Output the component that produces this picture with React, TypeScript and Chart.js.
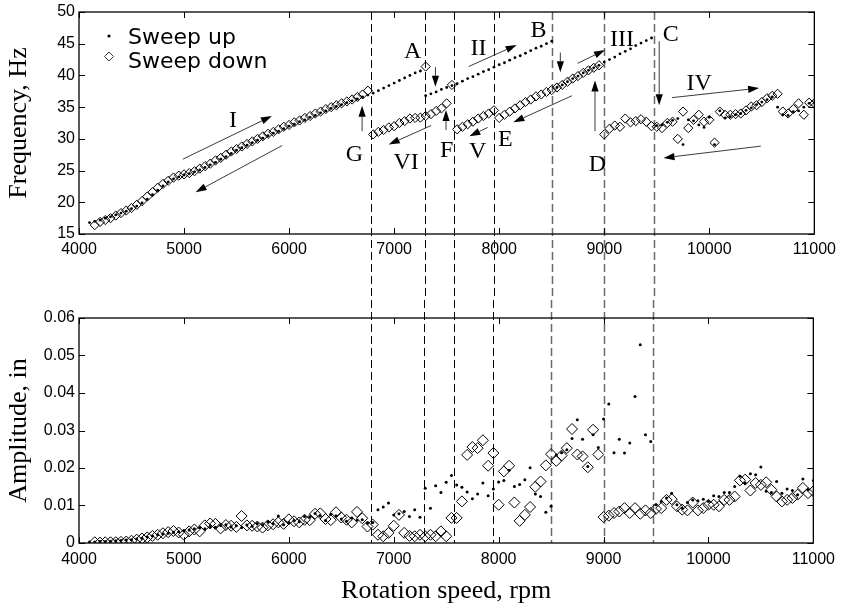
import React, { useEffect, useRef } from 'react';
import { Chart, registerables } from 'chart.js';

Chart.register(...registerables);

// ---------- data ----------
const rpmGrid = [
  4100, 4150, 4200, 4250, 4300, 4350, 4400, 4450, 4500, 4550,
  4600, 4650, 4700, 4750, 4800, 4850, 4900, 4950, 5000, 5050,
  5100, 5150, 5200, 5250, 5300, 5350, 5400, 5450, 5500, 5550,
  5600, 5650, 5700, 5750, 5800, 5850, 5900, 5950, 6000, 6050,
  6100, 6150, 6200, 6250, 6300, 6350, 6400, 6450, 6500, 6550,
  6600, 6650, 6700, 6750, 6800, 6850, 6900, 6950, 7000, 7050,
  7100, 7150, 7200, 7250, 7300, 7350, 7400, 7450, 7500, 7550,
  7600, 7650, 7700, 7750, 7800, 7850, 7900, 7950, 8000, 8050,
  8100, 8150, 8200, 8250, 8300, 8350, 8400, 8450, 8500, 8550,
  8600, 8650, 8700, 8750, 8800, 8850, 8900, 8950, 9000, 9050,
  9100, 9150, 9200, 9250, 9300, 9350, 9400, 9450, 9500, 9550,
  9600, 9650, 9700, 9750, 9800, 9850, 9900, 9950, 10000, 10050,
  10100, 10150, 10200, 10250, 10300, 10350, 10400, 10450, 10500, 10550,
  10600, 10650, 10700, 10750, 10800, 10850, 10900, 10950, 11000,
];
// sweep down starts one step later (4150)
const rpmDown = rpmGrid.slice(1);

const sweepUpFreq = [
  16.8, 17.0, 17.2, 17.5, 17.7, 18.0, 18.3, 18.6, 19.0, 19.4,
  19.9, 20.5, 21.2, 21.9, 22.6, 23.2, 23.7, 24.0, 24.3, 24.5,
  24.8, 25.1, 25.5, 25.9, 26.3, 26.8, 27.2, 27.7, 28.2, 28.6,
  29.0, 29.4, 29.8, 30.1, 30.5, 30.9, 31.2, 31.6, 32.0, 32.3,
  32.7, 33.0, 33.4, 33.7, 34.1, 34.4, 34.8, 35.1, 35.4, 35.7,
  36.0, 36.3, 36.6, 36.9, 37.2, 37.6, 38.0, 38.4, 38.8, 39.2,
  39.6, 40.0, 40.4, 40.7, 36.8, 37.1, 37.4, 37.8, 38.1, 38.4,
  38.7, 39.1, 39.5, 39.8, 40.2, 40.6, 40.9, 41.3, 41.7, 42.0,
  42.4, 42.8, 43.1, 43.5, 43.9, 44.3, 44.6, 45.0, 45.4, 38.1,
  38.5, 39.0, 39.5, 39.9, 40.4, 40.8, 41.2, 41.6, 42.1, 42.5,
  42.9, 43.4, 43.8, 44.2, 44.7, 45.1, 45.5, 45.9, 32.1, 32.2,
  32.6, 32.9, 33.2, 29.1, 33.0, 32.85, 32.2, 31.8, 33.4, 29.1,
  34.4, 33.3, 33.5, 33.8, 34.0, 34.5, 34.9, 35.4, 35.8, 36.2,
  36.6, 35.0, 33.8, 33.7, 34.3, 34.4, 35.0, 35.6, 35.7,
];

const sweepDownFreq = [
  16.4, 16.9, 17.2, 17.5, 17.9, 18.3, 18.7, 19.1, 19.6, 20.2,
  20.9, 21.6, 22.3, 22.9, 23.4, 23.9, 24.2, 24.4, 24.6, 24.9,
  25.3, 25.7, 26.1, 26.6, 27.0, 27.5, 28.0, 28.4, 28.8, 29.2,
  29.6, 30.0, 30.4, 30.8, 31.1, 31.5, 31.9, 32.2, 32.6, 32.9,
  33.3, 33.6, 34.0, 34.3, 34.7, 35.0, 35.3, 35.6, 35.9, 36.2,
  36.6, 37.0, 37.6, 30.7, 31.1, 31.4, 31.8, 32.0, 32.5, 32.8,
  33.2, 33.3, 33.35, 33.6, 33.9, 34.4, 34.8, 35.6, 38.5, 31.5,
  31.9, 32.3, 32.7, 33.2, 33.6, 34.0, 34.5, 33.3, 33.8, 34.3,
  34.8, 35.3, 35.8, 36.2, 36.7, 37.0, 37.4, 37.7, 38.1, 38.5,
  39.0, 39.5, 39.9, 40.4, 40.8, 41.2, 41.6, 30.7, 31.6, 32.1,
  31.9, 33.2, 32.6, 32.8, 33.1, 32.7, 32.0, 31.9, 31.7, 32.5,
  32.7, 30.0, 34.3, 31.7, 33.0, 33.8, 32.7, 33.0, 29.4, 34.3,
  33.8, 33.8, 33.9, 34.0, 34.5, 35.1, 35.3, 35.8, 36.4, 36.8,
  37.1, 34.3, 34.0, 34.7, 35.6, 33.8, 35.7, 35.6,
];
// extra sweep-down point at A
const sweepDownExtraRpm = [7300];
const sweepDownExtraFreq = [41.4];

const sweepUpAmp = [
  0.0003, 0.0003, 0.0004, 0.0004, 0.0005, 0.0006, 0.0007, 0.0008, 0.0009, 0.0011,
  0.0013, 0.0016, 0.0019, 0.0022, 0.0024, 0.0026, 0.0029, 0.003, 0.0033, 0.0035,
  0.0038, 0.0041, 0.0038, 0.0044, 0.0042, 0.0047, 0.0049, 0.0043, 0.0046, 0.0041,
  0.0048, 0.0045, 0.0052, 0.0049, 0.0056, 0.0052, 0.0072, 0.0049, 0.0055, 0.006,
  0.0057, 0.0071, 0.0069, 0.0079, 0.0073, 0.006, 0.0077, 0.0073, 0.0064, 0.0058,
  0.0067, 0.0061, 0.0062, 0.0053, 0.0055, 0.0089, 0.0096, 0.0107, 0.0075, 0.0078,
  0.0084, 0.0071, 0.0089, 0.0069, 0.0146, 0.0093, 0.0153, 0.0135, 0.0162, 0.018,
  0.0155, 0.0149, 0.0136, 0.0118, 0.0131, 0.016, 0.0126, 0.0144, 0.0163, 0.0167,
  0.0194, 0.0151, 0.0156, 0.0169, 0.0201, 0.0131, 0.0124, 0.0082, 0.0098, 0.0235,
  0.0241, 0.0249, 0.0279, 0.0329, 0.0277, 0.0204, 0.0289, 0.0255, 0.0331, 0.0371,
  0.0241, 0.0277, 0.024, 0.0267, 0.0391, 0.0529, 0.0289, 0.0271, 0.0102, 0.0111,
  0.012, 0.0133, 0.0102, 0.0093, 0.0108, 0.0115, 0.0113, 0.0117, 0.0111, 0.0126,
  0.0124, 0.0135, 0.0135, 0.0151, 0.0178, 0.016, 0.0185, 0.0182, 0.0203, 0.0138,
  0.0135, 0.0164, 0.0133, 0.0144, 0.014, 0.0129, 0.0171, 0.0142, 0.0167,
];

const sweepDownAmp = [
  0.0002, 0.0001, 0.0002, 0.0002, 0.0002, 0.0003, 0.0004, 0.0006, 0.0009, 0.0012,
  0.0015, 0.0019, 0.0022, 0.0026, 0.0029, 0.0032, 0.0028, 0.0022, 0.0031, 0.0036,
  0.0031, 0.0047, 0.0052, 0.0051, 0.0039, 0.0048, 0.0046, 0.0043, 0.0072, 0.0047,
  0.0046, 0.0044, 0.0041, 0.0047, 0.005, 0.0055, 0.0051, 0.0063, 0.0058, 0.0055,
  0.0062, 0.0061, 0.0078, 0.0079, 0.0064, 0.0061, 0.0082, 0.0068, 0.0062, 0.0055,
  0.0083, 0.0066, 0.0044, 0.0049, 0.0022, 0.0018, 0.0027, 0.0046, 0.0075, 0.0027,
  0.0019, 0.0018, 0.0022, 0.0018, 0.0022, 0.0018, 0.0031, 0.0018, 0.0067, 0.0067,
  0.0111, 0.0235, 0.0256, 0.0253, 0.0274, 0.0206, 0.024, 0.0102, 0.0191, 0.0206,
  0.0108, 0.0059, 0.0075, 0.0096, 0.015, 0.0164, 0.0207, 0.0237, 0.0219, 0.0233,
  0.0253, 0.0304, 0.0236, 0.0231, 0.0202, 0.0302, 0.0236, 0.0069, 0.0073, 0.008,
  0.0084, 0.0093, 0.008, 0.0093, 0.0078, 0.0087, 0.008, 0.0091, 0.0093, 0.0115,
  0.0117, 0.0098, 0.0089, 0.0087, 0.0108, 0.0087, 0.0093, 0.0102, 0.0102, 0.0098,
  0.0115, 0.0115, 0.0124, 0.0167, 0.0169, 0.014, 0.016, 0.0155, 0.0162, 0.0142,
  0.0124, 0.0111, 0.0115, 0.012, 0.0129, 0.0147, 0.0133, 0.0138,
];

const rpmTicks = [4000, 5000, 6000, 7000, 8000, 9000, 10000, 11000];
const freqTicks = [15, 20, 25, 30, 35, 40, 45, 50];
const ampTicks = [0, 0.01, 0.02, 0.03, 0.04, 0.05, 0.06];
const transitionRpm = [6780, 7290, 7570, 7950, 8500, 9000, 9470];

const regionLabels = [
  { text: 'I', rpm: 5465, freq: 32.8 },
  { text: 'G', rpm: 6622, freq: 27.5 },
  { text: 'A', rpm: 7177, freq: 43.7 },
  { text: 'B', rpm: 8375, freq: 47.1 },
  { text: 'II', rpm: 7804, freq: 44.2 },
  { text: 'III', rpm: 9168, freq: 45.7 },
  { text: 'C', rpm: 9634, freq: 46.4 },
  { text: 'IV', rpm: 9903, freq: 38.7 },
  { text: 'D', rpm: 8936, freq: 26.0 },
  { text: 'E', rpm: 8059, freq: 29.9 },
  { text: 'F', rpm: 7500, freq: 28.1 },
  { text: 'V', rpm: 7795, freq: 27.9 },
  { text: 'VI', rpm: 7114, freq: 26.2 },
];

// arrows: [fromRpm, fromFreq, toRpm, toFreq]
const regionArrows = [
  [4989, 26.8, 5836, 33.6],
  [5934, 28.95, 5110, 21.6],
  [6695, 31.2, 6695, 35.2],
  [7393, 41.3, 7393, 38.2],
  [8582, 43.6, 8582, 40.5],
  [7709, 41.4, 8166, 44.8],
  [8746, 41.9, 9007, 44.0],
  [9523, 45.4, 9523, 35.3],
  [9644, 36.5, 10474, 38.0],
  [10490, 28.85, 9564, 27.0],
  [8912, 31.2, 8912, 39.2],
  [8693, 36.8, 8135, 32.6],
  [7494, 31.4, 7494, 34.55],
  [7890, 31.8, 7716, 30.4],
  [7352, 32.1, 6948, 29.1],
];

// ---------- styling ----------
const SANS = "'Liberation Sans', Arial, Helvetica, sans-serif";
const SERIF = "'Liberation Serif', 'Times New Roman', serif";

function drawArrow(ctx: CanvasRenderingContext2D, x1: number, y1: number, x2: number, y2: number) {
  const ang = Math.atan2(y2 - y1, x2 - x1);
  const headLen = 11;
  const headW = 3.6;
  const bx = x2 - headLen * Math.cos(ang);
  const by = y2 - headLen * Math.sin(ang);
  ctx.strokeStyle = '#3a3a3a';
  ctx.lineWidth = 1;
  ctx.beginPath();
  ctx.moveTo(x1, y1);
  ctx.lineTo(bx, by);
  ctx.stroke();
  ctx.fillStyle = '#000';
  ctx.beginPath();
  ctx.moveTo(x2, y2);
  ctx.lineTo(bx + headW * Math.sin(ang), by - headW * Math.cos(ang));
  ctx.lineTo(bx - headW * Math.sin(ang), by + headW * Math.cos(ang));
  ctx.closePath();
  ctx.fill();
}

function makeOverlay(kind: 'top' | 'bottom') {
  return {
    id: 'overlay_' + kind,
    beforeDatasetsDraw(chart: any) {
      const { ctx, chartArea: a } = chart;
      const xs = chart.scales.x;
      ctx.save();
      transitionRpm.forEach((r, i) => {
        const px = Math.round(xs.getPixelForValue(r)) + 0.5;
        ctx.strokeStyle = i >= 4 ? '#6a6a6a' : '#000';
        ctx.lineWidth = i >= 4 ? 1.5 : 1;
        ctx.setLineDash([8, 4]);
        ctx.beginPath();
        ctx.moveTo(px, kind === 'top' ? a.top : 0);
        ctx.lineTo(px, kind === 'top' ? chart.height : a.bottom);
        ctx.stroke();
      });
      ctx.restore();
    },
    afterDatasetsDraw(chart: any) {
      const { ctx, chartArea: a } = chart;
      const xs = chart.scales.x;
      const ys = chart.scales.y;
      ctx.save();
      ctx.setLineDash([]);
      ctx.strokeStyle = '#000';
      ctx.lineWidth = 1.3;
      ctx.strokeRect(a.left, a.top, a.right - a.left, a.bottom - a.top);
      const L = 6;
      ctx.lineWidth = 1;
      ctx.beginPath();
      xs.ticks.forEach((t: any) => {
        const px = Math.round(xs.getPixelForValue(t.value)) + 0.5;
        ctx.moveTo(px, a.bottom);
        ctx.lineTo(px, a.bottom - L);
        ctx.moveTo(px, a.top);
        ctx.lineTo(px, a.top + L);
      });
      ys.ticks.forEach((t: any) => {
        const py = Math.round(ys.getPixelForValue(t.value)) + 0.5;
        ctx.moveTo(a.left, py);
        ctx.lineTo(a.left + L, py);
        ctx.moveTo(a.right, py);
        ctx.lineTo(a.right - L, py);
      });
      ctx.stroke();

      if (kind === 'top') {
        regionArrows.forEach(([r1, f1, r2, f2]) => {
          drawArrow(ctx, xs.getPixelForValue(r1), ys.getPixelForValue(f1), xs.getPixelForValue(r2), ys.getPixelForValue(f2));
        });
        ctx.fillStyle = '#000';
        ctx.font = `24px ${SERIF}`;
        ctx.textAlign = 'center';
        ctx.textBaseline = 'middle';
        regionLabels.forEach((l) => {
          ctx.fillText(l.text, xs.getPixelForValue(l.rpm), ys.getPixelForValue(l.freq));
        });
        // legend
        const ds = chart.data.datasets;
        const lx = a.left + 30;
        ctx.textAlign = 'left';
        ctx.textBaseline = 'alphabetic';
        ctx.font = `22px 'DejaVu Sans', ${SANS}`;
        ctx.fillText(ds[0].label, a.left + 49, a.top + 32);
        ctx.fillText(ds[1].label, a.left + 49, a.top + 56);
        ctx.beginPath();
        ctx.arc(lx, a.top + 24, 1.6, 0, Math.PI * 2);
        ctx.fill();
        const cy = a.top + 44.5;
        const r = 4.5;
        ctx.lineWidth = 1;
        ctx.beginPath();
        ctx.moveTo(lx - r, cy);
        ctx.lineTo(lx, cy - r);
        ctx.lineTo(lx + r, cy);
        ctx.lineTo(lx, cy + r);
        ctx.closePath();
        ctx.stroke();
      }
      ctx.restore();
    },
  };
}

function axisX(height: number, padding: number, title?: string) {
  return {
    type: 'linear' as const,
    min: 4000,
    max: 11000,
    afterBuildTicks: (s: any) => {
      s.ticks = rpmTicks.map((v) => ({ value: v }));
    },
    grid: { display: false, drawTicks: false },
    border: { display: false },
    ticks: {
      color: '#000',
      font: { family: SANS, size: 16 },
      padding,
      maxRotation: 0,
      autoSkip: false,
      callback: (v: any) => String(v),
    },
    title: title
      ? { display: true, text: title, color: '#000', font: { family: SERIF, size: 26 }, padding: { top: 0, bottom: 5 } }
      : { display: false },
    afterFit: (s: any) => {
      s.height = height;
    },
  };
}

function axisY(min: number, max: number, tickVals: number[], title: string, fmt: (v: number) => string) {
  return {
    type: 'linear' as const,
    min,
    max,
    afterBuildTicks: (s: any) => {
      s.ticks = tickVals.map((v) => ({ value: v }));
    },
    grid: { display: false, drawTicks: false },
    border: { display: false },
    ticks: {
      color: '#000',
      font: { family: SANS, size: 16, lineHeight: 1 },
      padding: 4,
      autoSkip: false,
      callback: (v: any) => fmt(Number(v)),
    },
    title: { display: true, text: title, color: '#000', font: { family: SERIF, size: 26 }, padding: { top: 4, bottom: 0 } },
    afterFit: (s: any) => {
      s.width = 79;
    },
  };
}

export default function App() {
  const topRef = useRef<HTMLCanvasElement>(null);
  const botRef = useRef<HTMLCanvasElement>(null);

  useEffect(() => {
    const upTop = rpmGrid.map((r, i) => ({ x: r, y: sweepUpFreq[i] }));
    const downTop = rpmDown
      .map((r, i) => ({ x: r, y: sweepDownFreq[i] }))
      .concat(sweepDownExtraRpm.map((r, i) => ({ x: r, y: sweepDownExtraFreq[i] })));
    const upBot = rpmGrid.map((r, i) => ({ x: r, y: sweepUpAmp[i] }));
    const downBot = rpmDown.map((r, i) => ({ x: r, y: sweepDownAmp[i] }));

    const common = {
      responsive: false,
      animation: false as const,
      events: [] as any[],
      plugins: { legend: { display: false }, tooltip: { enabled: false } },
    };

    const top = new Chart(topRef.current!, {
      type: 'scatter',
      data: {
        datasets: [
          { label: 'Sweep up', data: upTop, pointStyle: 'circle', pointRadius: 1.4, backgroundColor: '#000', borderColor: '#000', borderWidth: 0 },
          { label: 'Sweep down', data: downTop, pointStyle: 'rectRot', pointRadius: 4.6, backgroundColor: 'rgba(0,0,0,0)', borderColor: '#000', borderWidth: 1 },
        ],
      },
      options: {
        ...common,
        layout: { padding: { top: 9, right: 27, left: 0, bottom: 0 } },
        scales: {
          x: axisX(66, 6),
          y: axisY(15, 50, freqTicks, 'Frequency, Hz', (v) => String(v)),
        },
      } as any,
      plugins: [makeOverlay('top')],
    });

    const bot = new Chart(botRef.current!, {
      type: 'scatter',
      data: {
        datasets: [
          { label: 'Sweep up', data: upBot, pointStyle: 'circle', pointRadius: 1.5, backgroundColor: '#000', borderColor: '#000', borderWidth: 0 },
          { label: 'Sweep down', data: downBot, pointStyle: 'rectRot', pointRadius: 5.5, backgroundColor: 'rgba(0,0,0,0)', borderColor: '#000', borderWidth: 1 },
        ],
      },
      options: {
        ...common,
        layout: { padding: { top: 18, right: 27, left: 0, bottom: 0 } },
        scales: {
          x: axisX(69, 7, 'Rotation speed, rpm'),
          y: axisY(0, 0.06, ampTicks, 'Amplitude, in', (v) => (v === 0 ? '0' : v.toFixed(2))),
        },
      } as any,
      plugins: [makeOverlay('bottom')],
    });

    return () => {
      top.destroy();
      bot.destroy();
    };
  }, []);

  return (
    <div style={{ position: 'absolute', left: 0, top: 0, width: 842, height: 612, background: '#fff' }}>
      <canvas ref={topRef} width={842} height={300} style={{ position: 'absolute', left: 0, top: 0, width: 842, height: 300, display: 'block' }} />
      <canvas ref={botRef} width={842} height={312} style={{ position: 'absolute', left: 0, top: 300, width: 842, height: 312, display: 'block' }} />
    </div>
  );
}
